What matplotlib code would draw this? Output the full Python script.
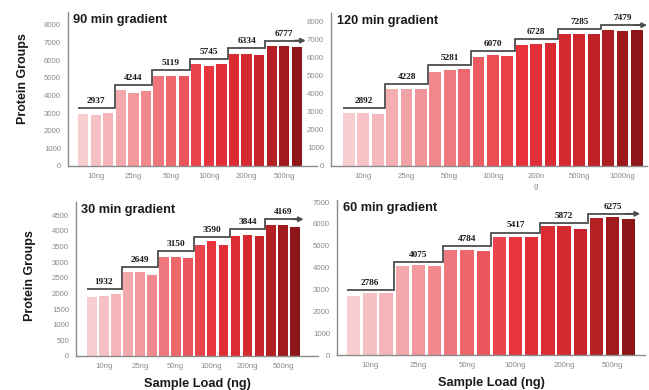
import numpy as np
import matplotlib
matplotlib.use('Agg')
import matplotlib.pyplot as plt
from matplotlib.colors import LinearSegmentedColormap

# sample loads on the x axis
loads = ['10ng', '25ng', '50ng', '100ng', '200ng', '500ng']
loads_120 = ['10ng', '25ng', '50ng', '100ng', '200n\ng', '500ng', '1000ng']

# protein groups per replicate (3 injections per load)
pg_90 = [2920, 2880, 3010, 4330, 4130, 4272, 5120, 5118, 5119,
         5760, 5680, 5795, 6345, 6345, 6312, 6800, 6800, 6731]
avg_90 = [2937, 4244, 5119, 5745, 6334, 6777]

pg_120 = [2900, 2910, 2866, 4230, 4228, 4226, 5210, 5285, 5348,
          6020, 6115, 6075, 6655, 6730, 6799, 7295, 7295, 7265,
          7490, 7455, 7492]
avg_120 = [2892, 4228, 5281, 6070, 6728, 7285, 7479]

pg_30 = [1890, 1910, 1996, 2695, 2672, 2580, 3165, 3155, 3130,
         3555, 3660, 3555, 3838, 3858, 3836, 4180, 4200, 4127]
avg_30 = [1932, 2649, 3150, 3590, 3844, 4169]

pg_60 = [2700, 2840, 2818, 4060, 4105, 4060, 4800, 4800, 4752,
         5418, 5417, 5416, 5913, 5913, 5790, 6275, 6305, 6245]
avg_60 = [2786, 4075, 4784, 5417, 5872, 6275]

reds = LinearSegmentedColormap.from_list(
    'reds', ['#f8cdd0', '#f2a3a7', '#ed6a70', '#e8313a', '#cf272d', '#8e1518'])

plt.rcParams['font.family'] = ['Liberation Sans', 'DejaVu Sans']
fig = plt.figure(figsize=(6.49, 3.9), dpi=100)


def panel(rect, vals, avgs, labels, title, ytop, yticks, xlim, pad, xlabel=False):
    ax = fig.add_axes(rect)
    n = len(vals)
    x = np.arange(n)
    cols = reds(np.linspace(0, 1, n))
    ax.bar(x, vals, width=0.82, color=cols, zorder=2)

    # stepped trend line over the group means
    levels = [a + pad for a in avgs]
    edges = [-0.41] + [3 * i + 2.5 for i in range(len(avgs) - 1)] + [n - 0.5]
    ax.stairs(levels, edges, baseline=None, color='#4d4d4d', lw=1.3, zorder=3)
    ax.annotate('', xy=(n - 0.3, levels[-1]), xytext=(n - 1.2, levels[-1]),
                arrowprops=dict(arrowstyle='-|>', color='#4d4d4d', lw=1.3,
                                mutation_scale=7, shrinkA=0, shrinkB=0), zorder=3)
    for i, a in enumerate(avgs):
        ax.text(3 * i + 1, levels[i] + ytop * 0.02, str(a), ha='center', va='bottom',
                fontsize=6.7, fontweight='bold', family='Liberation Serif', color='#1a1a1a')

    ax.set_xlim(*xlim)
    ax.set_ylim(0, ytop)
    ax.set_xticks([3 * i + 1 for i in range(len(labels))])
    ax.set_xticklabels(labels, fontsize=5.6, color='#8a8a8a', linespacing=1.6)
    ax.set_yticks(yticks)
    ax.set_yticklabels([str(t) for t in yticks], fontsize=5.6, color='#8a8a8a')
    ax.tick_params(length=0, pad=5)
    for s in ['top', 'right']:
        ax.spines[s].set_visible(False)
    for s in ['left', 'bottom']:
        ax.spines[s].set_color('#8c8c8c')
        ax.spines[s].set_linewidth(1.0)
    ax.text(0.02, 0.99, title, transform=ax.transAxes, ha='left', va='top',
            fontsize=9.2, fontweight='bold', color='#1a1a1a')
    if xlabel:
        ax.set_xlabel('Sample Load (ng)', fontsize=9.2, fontweight='bold', color='#1a1a1a',
                      labelpad=6)
    return ax


a1 = panel([0.1048, 0.5744, 0.3837, 0.3949], pg_90, avg_90, loads, '90 min gradient',
           8730, range(0, 8001, 1000), (-1.2, 18.6), 330)
a1.set_ylabel('Protein Groups', fontsize=9, fontweight='bold', color='#1a1a1a')
a1.yaxis.set_label_coords(-0.155, 0.57)

a2 = panel([0.510, 0.5744, 0.487, 0.3923], pg_120, avg_120, loads_120, '120 min gradient',
           8450, range(0, 8001, 1000), (-1.25, 20.7), 300)

a3 = panel([0.1171, 0.0872, 0.3729, 0.3949], pg_30, avg_30, loads, '30 min gradient',
           4920, range(0, 4501, 500), (-1.34, 18.9), 200, xlabel=True)
a3.set_ylabel('Protein Groups', fontsize=9, fontweight='bold', color='#1a1a1a')
a3.yaxis.set_label_coords(-0.165, 0.52)

a4 = panel([0.5193, 0.0897, 0.4746, 0.397], pg_60, avg_60, loads, '60 min gradient',
           7090, range(0, 7001, 1000), (-1.03, 18.0), 190, xlabel=True)

fig.savefig('out.png', dpi=100)
